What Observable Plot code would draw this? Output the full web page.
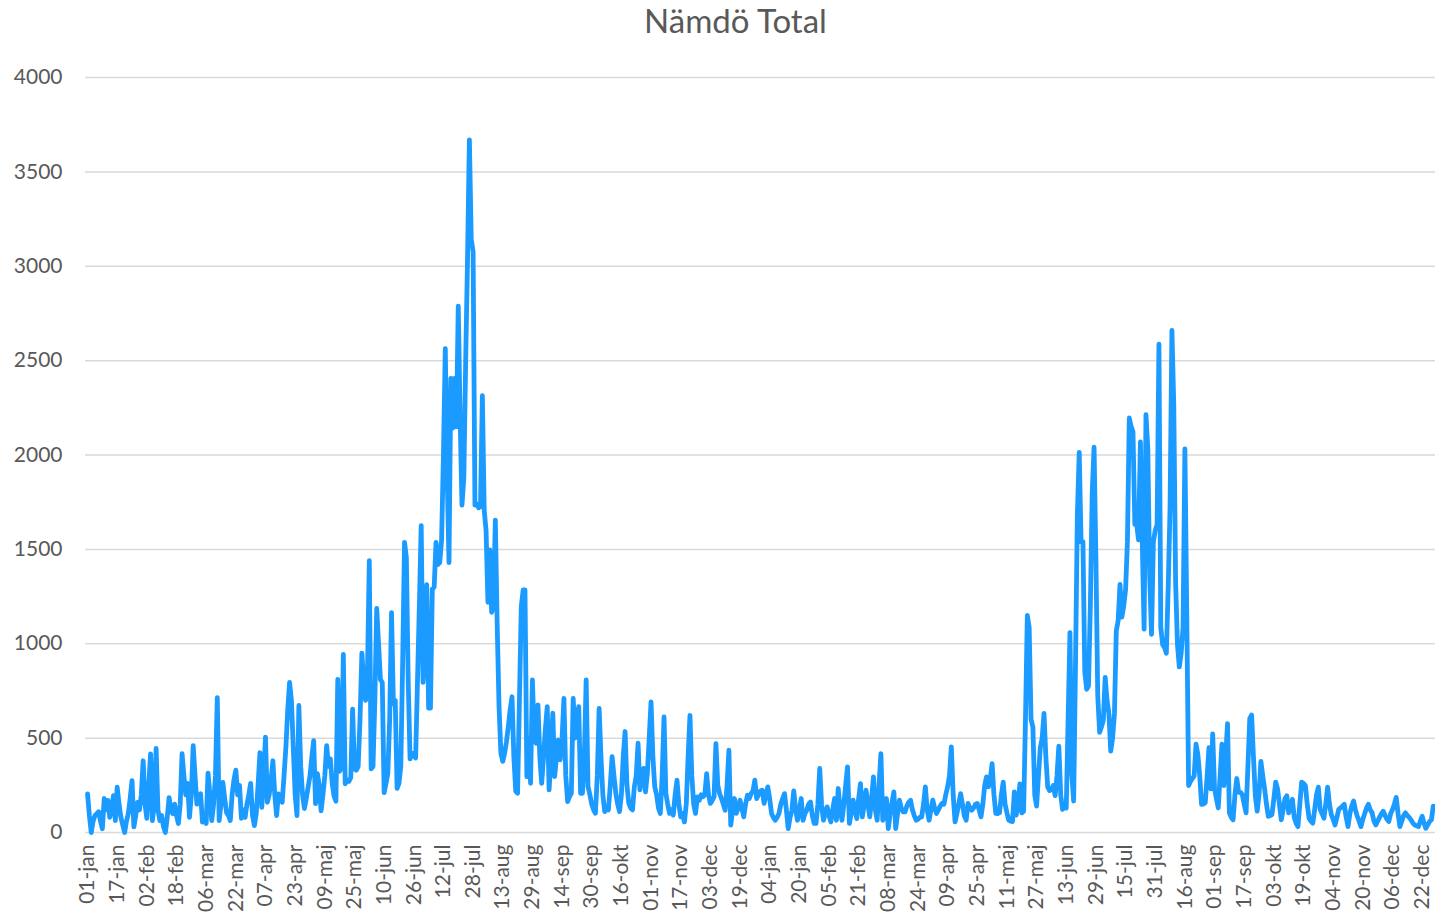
<!DOCTYPE html>
<html>
<head>
<meta charset="utf-8">
<script src="https://cdn.jsdelivr.net/npm/d3@7"></script>
<script src="https://cdn.jsdelivr.net/npm/@observablehq/plot@0.6"></script>
<style>
  html, body { margin: 0; padding: 0; background: #fff; }
  #title { height: 45px; line-height: 40px; text-align: center; padding-left: 36px; font-family: Lato, "Open Sans", sans-serif; font-size: 33px; color: #595959; overflow: hidden; }
  #chart svg { display: block; }
</style>
</head>
<body>
<div id="title">Nämdö Total</div>
<div id="chart"></div>
<script>
// Tick labels (every 16th day)
const tickLabels = ["01-jan","17-jan","02-feb","18-feb","06-mar","22-mar","07-apr","23-apr","09-maj","25-maj","10-jun","26-jun","12-jul","28-jul","13-aug","29-aug","14-sep","30-sep","16-okt","01-nov","17-nov","03-dec","19-dec","04-jan","20-jan","05-feb","21-feb","08-mar","24-mar","09-apr","25-apr","11-maj","27-maj","13-jun","29-jun","15-jul","31-jul","16-aug","01-sep","17-sep","03-okt","19-okt","04-nov","20-nov","06-dec","22-dec"];

// Daily totals, first year
const year1 = [
205,90,0,60,90,100,110,60,20,180,120,170,80,130,195,63,240,150,80,40,
0,60,100,180,275,30,90,160,120,200,380,150,75,250,417,63,150,445,120,63,
90,30,0,80,185,120,100,150,90,48,150,418,300,200,260,80,200,460,300,150,
180,205,55,80,48,315,200,63,150,300,715,63,150,265,180,105,90,63,200,280,
330,200,250,75,120,80,150,200,260,90,37,100,250,423,133,300,505,160,200,280,
380,200,90,205,180,160,300,450,650,795,700,450,200,90,673,350,200,127,180,240,
300,400,487,153,312,250,115,200,300,460,350,390,260,192,166,811,324,345,943,258,
280,271,290,653,337,330,350,600,950,800,700,840,1440,337,350,700,1187,1000,811,795,
211,260,312,600,1165,680,700,234,260,350,900,1537,1457,800,390,420,410,395,800,1200,
1626,795,1000,1313,659,659,1290,1300,1537,1420,1430,1550,2000,2564,1900,1430,2406,2142,2406,2150,
2788,2200,1734,1879,2500,3038,3670,3143,3078,1734,1740,1720,1730,2314,1708,1600,1220,1497,1167,1200,
1655,1100,667,420,377,420,482,560,650,719,400,219,208,700,1197,1285,1285,296,500,261,
808,500,473,676,400,261,400,550,667,226,400,632,296,400,490,385,500,711,300,164,
190,208,711,500,600,667,208,208,400,808,243,200,150,120,102,300,658,400,200,111,
130,120,250,402,300,208,150,111,200,400,535,250,155,130,120,243,300,473,226,300,
340,215,312,500,692,400,242,200,130,101,300,612,206,150,101,120,92,200,277,150,
83,100,56,150,400,621,300,150,101,189,170,200,189,200,312,200,154,170,189,471,
250,206,180,150,118,250,436,39,120,180,101,130,171,130,83,150,198,180,206,220,
277,180,200,220,224
];

// Daily totals, second year
const year2 = [
154,200,242,180,101,80,65,80,101,150,180,206,120,21,80,118,221,120,65,120,
180,65,100,118,150,162,90,48,48,150,339,150,65,100,136,90,56,120,180,65,
233,120,65,150,250,348,48,100,171,120,74,180,259,83,150,224,150,83,180,295,
120,65,250,418,65,100,180,21,100,160,215,21,100,171,130,110,109,140,160,171,
120,90,65,70,80,83,150,242,120,65,120,171,130,101,120,140,154,150,200,242,
300,454,200,56,100,150,206,150,90,65,154,130,118,130,150,154,120,83,150,250,
295,242,280,365,200,101,100,104,200,267,150,104,65,60,58,215,92,150,258,104,
113,600,1150,1086,600,558,200,140,300,449,500,631,400,240,222,230,249,195,300,458,
200,122,140,130,600,1059,304,167,900,1687,2014,1541,1541,850,759,777,1200,1800,2041,1450,
722,531,560,595,822,700,631,431,500,631,1068,1123,1314,1141,1200,1286,1541,2196,2150,2123,
1632,1632,1550,2069,1541,1077,2214,2032,1359,1050,1541,1600,1632,2587,1086,995,980,950,1300,1723,
2660,2269,1323,995,877,950,1086,2032,1177,249,270,286,300,468,413,300,149,150,158,300,
449,231,522,231,180,131,300,468,249,400,577,104,80,67,200,286,213,213,200,150,
104,350,604,622,400,195,113,200,377,300,231,150,86,90,95,180,267,231,150,67,
120,180,195,104,140,176,80,49,31,150,267,260,249,150,76,60,49,120,200,240,
122,100,76,150,240,150,95,70,40,80,122,130,140,149,80,31,100,140,167,120,
86,60,31,70,100,130,149,120,104,60,40,60,80,100,113,90,70,58,100,122,
150,186,100,31,60,90,104,90,80,67,50,40,35,31,60,86,50,22,40,58,
67,140
];

const yTicks = [0, 500, 1000, 1500, 2000, 2500, 3000, 3500, 4000];

const values = year1.concat(year2);
const data = values.map((v, i) => ({i, v}));
const tickIdx = tickLabels.map((_, k) => k * 16);

const chart = Plot.plot({
  width: 1435,
  height: 874,
  marginTop: 32,
  marginBottom: 87,
  marginLeft: 85,
  marginRight: 0,
  style: {fontFamily: "Lato, 'Open Sans', sans-serif", color: "#595959", background: "#fff"},
  x: {domain: [-1.1, 727.2], axis: null, label: null},
  y: {domain: [0, 4000], axis: null, label: null},
  marks: [
    Plot.ruleY(yTicks, {stroke: "#d9d9d9", strokeWidth: 1.5}),
    Plot.axisY(yTicks, {label: null, tickSize: 0, tickPadding: 23, fontSize: 21, fill: "#595959", tickFormat: d => String(d)}),
    Plot.axisX(tickIdx, {label: null, tickSize: 0, tickPadding: 12, tickRotate: -90, fontSize: 21, fill: "#595959", tickFormat: d => tickLabels[d / 16]}),
    Plot.line(data, {x: "i", y: "v", stroke: "#1b9bff", strokeWidth: 4.8, strokeLinejoin: "round", strokeLinecap: "round"})
  ]
});
document.getElementById("chart").appendChild(chart);
</script>
</body>
</html>
